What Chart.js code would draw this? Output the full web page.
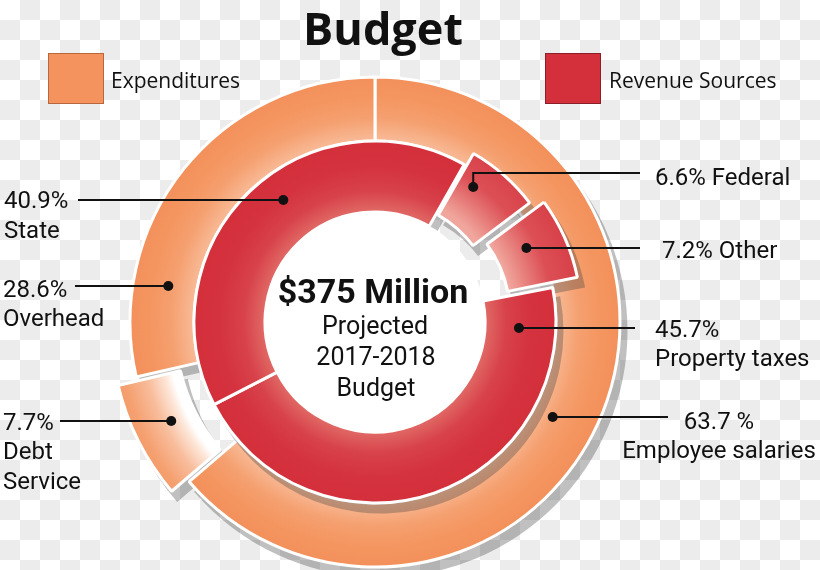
<!DOCTYPE html>
<html>
<head>
<meta charset="utf-8">
<script src="https://cdn.jsdelivr.net/npm/chart.js@4.4.1/dist/chart.umd.min.js"></script>
<style>
  html, body { margin: 0; padding: 0; }
  body {
    width: 820px; height: 570px; overflow: hidden;
    background-color: #ffffff;
    background-image: conic-gradient(#ececec 25%, #ffffff 0 50%, #ececec 0 75%, #ffffff 0);
    background-size: 40px 40px;
  }
  canvas { display: block; }
</style>
</head>
<body>
<canvas id="chart" width="820" height="570"></canvas>
<script>
// ---------------- data ----------------
const titleText = 'Budget';
const seriesNames = ['Expenditures', 'Revenue Sources'];
const expenditureLabels = ['Employee salaries', 'Debt Service', 'Overhead'];
const expenditureValues = [63.7, 7.7, 28.6];
const revenueLabels = ['Property taxes', 'State', 'Federal', 'Other'];
const revenueValues = [45.7, 40.9, 6.6, 7.2];
const expenditureCallouts = [['63.7 %', 'Employee salaries'], ['7.7%', 'Debt', 'Service'], ['28.6%', 'Overhead']];
const revenueCallouts = [['45.7%', 'Property taxes'], ['40.9%', 'State'], ['6.6% Federal'], ['7.2% Other']];
const centerLines = ['$375 Million', 'Projected', '2017-2018', 'Budget'];

// ---------------- layout / style ----------------
const ORANGE = '#f4935e', RED = '#d3303c';
const calloutLayout = [
  [ // expenditures (outer ring)
    { dotY: 417, frac: 0.32, lineY: 417, lineX: 668, textX: 719, align: 'center', baselines: [429, 458] },
    { dotY: 421, frac: 0.4, lineY: 421, lineX: 60, textX: 3, align: 'left', baselines: [430, 459, 489] },
    { dotY: 286, frac: 0.45, lineY: 286, lineX: 75, textX: 3, align: 'left', baselines: [297, 326] }
  ],
  [ // revenue (inner ring)
    { dotY: 328, frac: 0.48, lineY: 328, lineX: 635, textX: 655, align: 'left', baselines: [337, 366] },
    { dotY: 200, frac: 0.6, lineY: 200, lineX: 78, textX: 4, align: 'left', baselines: [208, 238] },
    { dotY: 187, frac: 0.6, lineY: 173, lineX: 640, textX: 655, align: 'left', baselines: [185] },
    { dotY: 248, frac: 0.45, lineY: 248, lineX: 640, textX: 662, align: 'left', baselines: [258] }
  ]
];

function radialFill(chart, r0, r1, stops, fallback) {
  const a = chart.chartArea;
  if (!a) return fallback;
  const cx = (a.left + a.right) / 2, cy = (a.top + a.bottom) / 2;
  const g = chart.ctx.createRadialGradient(cx, cy, r0, cx, cy, r1);
  stops.forEach(s => g.addColorStop(s[0], s[1]));
  return g;
}
function outerFill(c) {
  if (c.dataIndex === 1) {
    return radialFill(c.chart, 196, 276, [[0, '#ffffff'], [0.1, '#fde6d8'], [0.32, '#f8bd9c'], [0.6, '#f5a070'], [1, '#f3915c']], ORANGE);
  }
  return radialFill(c.chart, 181, 246, [[0, '#f8bb98'], [0.35, '#f5a070'], [0.7, '#f4955f'], [1, '#f3905b']], ORANGE);
}
function innerFill(c) {
  if (c.dataIndex >= 2) {
    return radialFill(c.chart, 122, 222, [[0, '#f0a69c'], [0.4, '#dc4f55'], [1, '#d3303c']], RED);
  }
  return radialFill(c.chart, 110, 181, [[0, '#e06a66'], [0.3, '#d8424a'], [0.65, '#d4323e'], [1, '#d3303c']], RED);
}

// arc geometry (mirrors ArcElement offset handling)
function arcGeom(el) {
  const off = (el.options.offset || 0) / 4;
  const half = (el.startAngle + el.endAngle) / 2;
  const fix = 1 - Math.sin(Math.min(Math.PI, el.circumference || 0));
  return {
    cx: el.x + Math.cos(half) * off,
    cy: el.y + Math.sin(half) * off,
    ri: el.innerRadius + off * fix,
    ro: el.outerRadius + off * fix
  };
}

const decorPlugin = {
  id: 'decor',
  beforeDatasetDraw(chart, args) {
    const ctx = chart.ctx;
    ctx.save();
    ctx.fillStyle = 'rgba(60,60,60,0.32)';
    args.meta.data.forEach(el => {
      const g = arcGeom(el);
      const sx = g.cx + 6, sy = g.cy + 9;
      ctx.beginPath();
      ctx.arc(sx, sy, g.ro + 1.5, el.startAngle, el.endAngle, false);
      ctx.arc(sx, sy, Math.max(g.ri - 1.5, 0), el.endAngle, el.startAngle, true);
      ctx.closePath();
      ctx.fill();
    });
    ctx.restore();
  },
  afterDatasetsDraw(chart) {
    const ctx = chart.ctx;
    const el = chart.getDatasetMeta(1).data[0];
    ctx.save();
    ctx.beginPath();
    ctx.arc(el.x, el.y, el.innerRadius + 0.5, 0, Math.PI * 2);
    ctx.fillStyle = '#ffffff';
    ctx.fill();
    ctx.fillStyle = '#111';
    ctx.textAlign = 'center';
    ctx.textBaseline = 'alphabetic';
    ctx.font = '700 34px Roboto';
    ctx.fillText(centerLines[0], el.x - 2, 303);
    ctx.font = '400 25px Roboto';
    ctx.fillText(centerLines[1], el.x, 334);
    ctx.fillText(centerLines[2], el.x + 1, 365);
    ctx.fillText(centerLines[3], el.x + 1, 396);
    ctx.restore();
  },
  afterDraw(chart) {
    const ctx = chart.ctx;
    ctx.save();
    // title
    ctx.fillStyle = '#111';
    ctx.textAlign = 'center';
    ctx.textBaseline = 'alphabetic';
    ctx.font = '700 45px "Open Sans"';
    ctx.fillText(titleText, 383, 45);
    // legend
    const legendBoxes = [
      { x: 48, color: ORANGE, border: '#b8663c', tx: 111 },
      { x: 545, color: RED, border: '#8a1f27', tx: 609 }
    ];
    legendBoxes.forEach((b, i) => {
      ctx.fillStyle = b.color;
      ctx.fillRect(b.x, 53, 56, 51);
      ctx.strokeStyle = b.border;
      ctx.lineWidth = 1;
      ctx.strokeRect(b.x + 0.5, 53.5, 55, 50);
      ctx.fillStyle = '#111';
      ctx.textAlign = 'left';
      ctx.font = '400 21px "Open Sans"';
      ctx.fillText(seriesNames[i], b.tx, 88);
    });
    // callouts
    const texts = [expenditureCallouts, revenueCallouts];
    [0, 1].forEach(di => {
      const meta = chart.getDatasetMeta(di);
      meta.data.forEach((el, i) => {
        const L = calloutLayout[di][i];
        const g = arcGeom(el);
        const r = g.ri + L.frac * (g.ro - g.ri);
        const side = L.lineX < el.x ? -1 : 1;
        const dy = L.dotY - g.cy;
        const dx = Math.sqrt(Math.max(r * r - dy * dy, 0));
        const px = g.cx + side * dx, py = L.dotY;
        ctx.strokeStyle = '#111';
        ctx.lineWidth = 2;
        ctx.beginPath();
        ctx.moveTo(px, py);
        if (L.lineY !== L.dotY) ctx.lineTo(px, L.lineY);
        ctx.lineTo(L.lineX, L.lineY);
        ctx.stroke();
        ctx.fillStyle = '#111';
        ctx.beginPath();
        ctx.arc(px, py, 5, 0, Math.PI * 2);
        ctx.fill();
        ctx.font = '400 24px Roboto';
        ctx.textAlign = L.align;
        texts[di][i].forEach((t, k) => ctx.fillText(t, L.textX, L.baselines[k]));
      });
    });
    ctx.restore();
  }
};

new Chart(document.getElementById('chart'), {
  type: 'doughnut',
  data: {
    labels: revenueLabels,
    datasets: [
      {
        label: seriesNames[0],
        data: expenditureValues,
        backgroundColor: outerFill,
        borderColor: '#ffffff',
        borderWidth: 3,
        offset: [0, 52, 0],
        hoverOffset: 0,
        rotation: 0,
        weight: 64,
        order: 1,
        radius: 245,
        cutout: '44.9%'
      },
      {
        label: seriesNames[1],
        data: revenueValues,
        backgroundColor: innerFill,
        borderColor: '#ffffff',
        borderWidth: 3,
        offset: [0, 0, 36, 68],
        hoverOffset: 0,
        rotation: 79,
        weight: 71,
        order: 0,
        radius: 245,
        cutout: '44.9%'
      }
    ]
  },
  options: {
    responsive: false,
    animation: false,
    events: [],
    radius: 245,
    cutout: '44.9%',
    layout: { padding: { left: 130, right: 200, top: 100, bottom: 26 } },
    plugins: { legend: { display: false }, title: { display: false }, tooltip: { enabled: false } }
  },
  plugins: [decorPlugin]
});
</script>
</body>
</html>
